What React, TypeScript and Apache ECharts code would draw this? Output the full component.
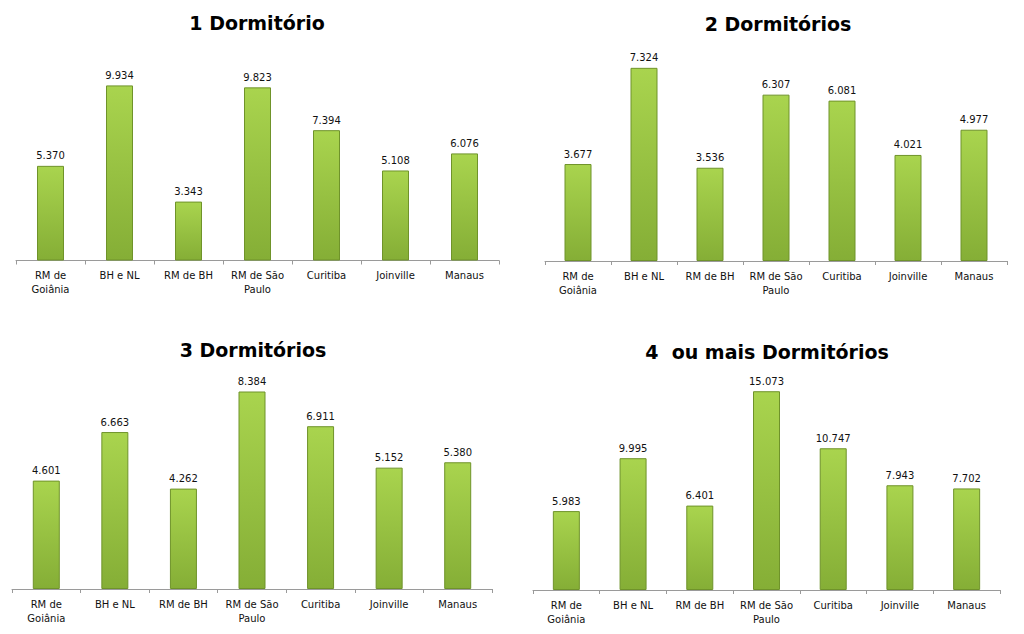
import React, { useEffect, useRef } from "react";
import * as echarts from "echarts";

const categories = [
  "RM de\nGoiânia",
  "BH e NL",
  "RM de BH",
  "RM de São\nPaulo",
  "Curitiba",
  "Joinville",
  "Manaus",
];

const titles = ["1 Dormitório", "2 Dormitórios", "3 Dormitórios", "4  ou mais Dormitórios"];

const values1 = [5370, 9934, 3343, 9823, 7394, 5108, 6076];
const values2 = [3677, 7324, 3536, 6307, 6081, 4021, 4977];
const values3 = [4601, 6663, 4262, 8384, 6911, 5152, 5380];
const values4 = [5983, 9995, 6401, 15073, 10747, 7943, 7702];

const allValues = [values1, values2, values3, values4];
const yMax = [12000, 8000, 9000, 16000];

const grids = [
  { left: 16, top: 49, width: 483, height: 211.5 },
  { left: 545, top: 50, width: 462, height: 211 },
  { left: 12, top: 377, width: 480, height: 212 },
  { left: 533, top: 379, width: 467, height: 211 },
];

const titlePos = [
  { x: 257, y: 23 },
  { x: 778, y: 24 },
  { x: 253, y: 350 },
  { x: 767, y: 352 },
];

const fmt = (v: number) => {
  const s = String(Math.round(v));
  return s.replace(/\B(?=(\d{3})+(?!\d))/g, ".");
};

const FONT = "'DejaVu Sans', Verdana, sans-serif";

export default function App() {
  const ref = useRef<HTMLDivElement>(null);
  useEffect(() => {
    document.body.style.margin = "0";
    if (!ref.current) return;
    const chart = echarts.init(ref.current, undefined, { renderer: "svg" });
    const barColor = new echarts.graphic.LinearGradient(0, 0, 0, 1, [
      { offset: 0, color: "#A9D44E" },
      { offset: 1, color: "#85AE36" },
    ]);
    chart.setOption({
      animation: false,
      backgroundColor: "#ffffff",
      grid: grids.map((g) => ({ ...g, containLabel: false })),
      xAxis: grids.map((_, i) => ({
        type: "category",
        gridIndex: i,
        data: categories,
        axisLine: { show: true, lineStyle: { color: "#9a9a9a", width: 1 } },
        axisTick: { show: true, length: 4, alignWithLabel: false, lineStyle: { color: "#9a9a9a" } },
        axisLabel: {
          interval: 0,
          margin: 8,
          fontSize: 10,
          lineHeight: 14,
          color: "#111",
          fontFamily: FONT,
        },
        splitLine: { show: false },
      })),
      yAxis: grids.map((_, i) => ({
        type: "value",
        gridIndex: i,
        min: 0,
        max: yMax[i],
        show: false,
        splitLine: { show: false },
      })),
      series: allValues.map((vals, i) => ({
        type: "bar",
        xAxisIndex: i,
        yAxisIndex: i,
        data: vals,
        barWidth: 27,
        itemStyle: {
          color: barColor,
          borderColor: "#6F932A",
          borderWidth: 1,
        },
        label: {
          show: true,
          position: "top",
          distance: 5,
          fontSize: 10,
          color: "#111",
          fontFamily: FONT,
          formatter: (p: any) => fmt(p.value),
        },
      })),
      graphic: titles.map((t, i) => ({
        type: "text",
        x: titlePos[i].x,
        y: titlePos[i].y,
        style: {
          text: t,
          align: "center",
          verticalAlign: "middle",
          font: `bold 19px ${FONT}`,
          fill: "#000",
        },
      })),
    });
    return () => chart.dispose();
  }, []);
  return <div ref={ref} style={{ width: 1024, height: 634 }} />;
}
